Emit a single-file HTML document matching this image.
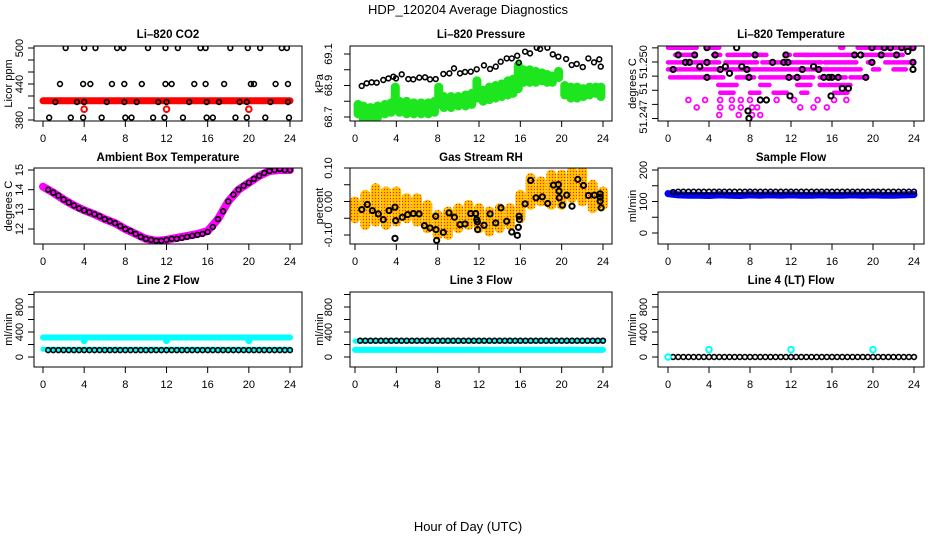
<!DOCTYPE html>
<html><head><meta charset="utf-8">
<style>
html,body{margin:0;padding:0;background:#fff;}
svg{display:block;font-family:"Liberation Sans",sans-serif;}
</style></head>
<body>
<svg id="chart" width="936" height="540" viewBox="0 0 936 540" xmlns="http://www.w3.org/2000/svg">
<text x="468" y="14" text-anchor="middle" font-size="13">HDP_120204  Average Diagnostics</text>
<text x="468" y="531" text-anchor="middle" font-size="13">Hour of Day (UTC)</text>
</svg>
<script>
// ---------- data ----------
const xTicks = [0,4,8,12,16,20,24];
// CO2
const co2RedVals = [412,412,412,412,412,412,412,412,412,412,412,412,412,412,412,412,412,412,412,412,412,412,412,412,412];
const co2RedPtX = [4,12,20];
const co2RedPtY = [398,398,398];
const co2BlackX = [2.2,4.0,5.1,7.2,7.8,10.2,11.9,13.1,15.3,15.8,18.2,19.9,21.1,23.2,23.7,
  1.65,3.9,4.6,6.7,7.9,9.6,11.9,12.5,14.7,15.8,17.6,20.2,20.5,22.6,23.8,
  1.2,3.3,4.0,6.2,7.9,9.1,11.2,12.0,14.2,15.9,17.1,19.1,19.8,22.1,23.8,
  0.6,2.7,3.9,5.7,8.0,8.6,10.7,11.8,13.6,15.9,16.5,18.7,19.8,21.6,23.9];
const co2BlackY = [500,500,500,500,500,500,500,500,500,500,500,500,500,500,500,
  440,440,440,440,440,440,440,440,440,440,440,440,440,440,440,
  410,410,410,410,410,410,410,410,410,410,410,410,410,410,410,
  384,384,384,384,384,384,384,384,384,384,384,384,384,384,384];
// Pressure
const presBlackX = [0.65,1.13,1.61,2.1,2.74,3.23,3.71,3.97,4.52,5.16,5.64,6.22,6.78,7.26,7.81,8.55,9.13,9.58,10.16,10.65,11.2,11.78,12.48,13.07,13.62,14.1,14.68,15.17,15.7,15.85,16.46,16.94,17.59,17.91,18.62,19.14,19.68,20.43,20.97,21.46,22.04,22.58,23.13,23.64,23.78];
const presBlackY = [68.897,68.914,68.920,68.918,68.935,68.945,68.956,68.945,68.971,68.941,68.939,68.950,68.952,68.939,68.941,68.973,68.977,69.009,68.977,68.986,68.988,69.003,69.028,69.005,69.020,69.051,69.072,69.072,69.089,69.045,69.115,69.104,69.140,69.132,69.140,69.098,69.083,69.068,69.030,69.037,69.017,69.072,69.047,69.066,69.020];
const presGreenX = [0.3,0.8,1.5,2.2,2.9,3.5,3.9,4.3,5.0,5.7,6.4,7.1,7.7,8.1,8.6,9.3,10.0,10.7,11.3,11.8,12.4,13.0,13.6,14.2,14.8,15.3,15.8,16.3,16.9,17.5,18.1,18.6,19.1,19.7,20.3,20.9,21.5,22.1,22.7,23.3,23.8];
const presGreenLo = [68.72,68.68,68.69,68.70,68.72,68.73,68.77,68.73,68.72,68.72,68.72,68.72,68.73,68.78,68.76,68.76,68.77,68.77,68.78,68.82,68.80,68.81,68.82,68.83,68.84,68.85,68.88,68.92,68.92,68.92,68.93,68.92,68.92,68.95,68.84,68.82,68.82,68.83,68.84,68.85,68.83];
const presGreenHi = [68.78,68.77,68.76,68.77,68.78,68.79,68.89,68.80,68.80,68.79,68.79,68.79,68.80,68.89,68.83,68.83,68.83,68.84,68.85,68.93,68.87,68.89,68.90,68.91,68.93,68.94,69.03,69.00,69.00,68.99,68.98,68.97,68.96,68.99,68.90,68.89,68.89,68.88,68.89,68.89,68.89];
// Li-820 temperature
const tempRunLevel = [51.25081,51.25081,51.25081,51.25081,
  51.2504,51.2504,51.2504,51.2504,51.2504,51.2504,51.2504,51.2504,
  51.24998,51.24998,51.24998,51.24998,51.24998,51.24998,51.24998,
  51.24958,51.24958,51.24958,51.24958,51.24958,
  51.24913,51.24913,51.24913,51.24913,51.24913,51.24913,
  51.2487,51.2487,51.2487,51.2487,
  51.24826,51.24826,51.24826,51.24826,51.24826];
const tempRunX0 = [0,3.8,16.8,18.5, 0.7,4.4,5.8,8.4,11.5,12.4,13.4,19.0, 0,3.9,5.6,9.2,15.3,19.5,21.2, 0,5.6,14.8,20,22, 0.2,6.7,9,12.7,14.8,17.8, 4.9,9,12.6,14.8, 5.1,8,10.3,13,16.2];
const tempRunX1 = [2.8,5,17.1,24, 2.8,5.1,8,9.6,11.9,13.7,18.3,22.9, 3.5,5,8.8,15,18.5,20,24, 5,14.5,18.8,20.6,23.2, 5.4,8.4,12.3,14.2,17.4,19.4, 6.7,9.9,13.9,17.8, 6.4,9,11.6,13.6,17.5];
const tempPtX = [1.99,3.62,5.09,6.23,7.1,8.0,10.6,12.3,14.6,16.2,17.4, 2.8,5.09,6.23,7.1,8.2,8.7,12.9,14.2,15.5, 5.0,6.9,8.2,9.0];
const tempPtY = [51.24785,51.24785,51.24785,51.24785,51.24785,51.24785,51.24785,51.24785,51.24785,51.24785,51.24785, 51.24743,51.24743,51.24743,51.24743,51.24743,51.24743,51.24743,51.24743,51.24743, 51.247,51.247,51.247,51.247];
const tempBlackX = [3.8,6.7,19.9,21.1,21.7,22.8,23.9, 1.0,2.6,4.6,8.5,11.5,18.2,18.8,20.8,22.3,23.4, 1.7,2.1,10.2,11.3,11.7,19.9,23.9, 0.5,3.1,3.8,5.1,5.6,7.2,7.7,13.1,14.2,14.7,6.0, 3.8,7.9,11.8,12.6,15.2,15.7,16.0,16.6,19.3,23.9, 17.0,17.6, 9.0,9.6,11.9,15.9, 7.8,7.9];
const tempBlackY = [51.25081,51.25081,51.25081,51.25081,51.25081,51.25081,51.25081, 51.2504,51.2504,51.2504,51.2504,51.2504,51.2504,51.2504,51.2504,51.2504,51.2506, 51.24998,51.24998,51.24998,51.24998,51.24998,51.24998,51.24998, 51.24958,51.24974,51.24998,51.24958,51.24974,51.24974,51.24958,51.24958,51.24974,51.24958,51.24936, 51.24913,51.24913,51.24913,51.24913,51.24913,51.24913,51.24913,51.24913,51.24913,51.24958, 51.24851,51.24851, 51.24785,51.24785,51.24808,51.24808, 51.24723,51.24681];
// Ambient box temperature
const ambMagenta = [14.15,13.85,13.5,13.2,12.95,12.75,12.5,12.3,12.0,11.75,11.5,11.4,11.45,11.55,11.65,11.75,11.9,12.5,13.4,14.0,14.35,14.7,14.95,15.0,15.0];
const ambBlack = [14.0,13.85,13.7,13.5,13.35,13.2,13.05,12.95,12.85,12.75,12.65,12.5,12.4,12.3,12.15,12.0,11.9,11.75,11.6,11.5,11.45,11.4,11.4,11.45,11.5,11.5,11.55,11.6,11.65,11.7,11.75,11.85,12.1,12.5,12.9,13.4,13.75,14.0,14.2,14.35,14.55,14.7,14.85,14.95,15.0,15.05,15.0,15.0];
// Gas stream RH
const rhCloudLo = [-0.05,-0.07,-0.06,-0.07,-0.06,-0.05,-0.06,-0.08,-0.10,-0.10,-0.08,-0.07,-0.08,-0.09,-0.08,-0.07,-0.05,-0.01,0.0,-0.01,-0.01,0.01,0.0,-0.02,-0.01];
const rhCloudHi = [0.0,0.02,0.04,0.03,0.03,0.01,0.01,-0.01,-0.04,-0.03,-0.02,-0.01,-0.02,-0.03,-0.02,-0.02,0.02,0.07,0.06,0.08,0.08,0.09,0.09,0.05,0.03];
const rhBlackX = [0.65,1.19,1.68,2.26,2.74,3.29,3.87,3.94,3.87,4.58,5.1,5.65,6.2,6.71,7.26,7.81,7.84,7.9,8.55,9.1,9.62,10.16,10.65,11.2,11.68,11.78,11.84,11.87,12.49,13.07,13.62,14.13,14.68,15.17,15.71,15.81,15.88,15.91,16.46,17.0,17.52,18.13,18.65,19.2,19.68,19.74,19.77,20.07,20.49,21.0,21.56,22.11,22.59,23.17,23.72,23.72,23.72,23.82];
const rhBlackY = [-0.024,-0.009,-0.027,-0.037,-0.054,-0.027,-0.017,-0.057,-0.110,-0.047,-0.039,-0.036,-0.037,-0.072,-0.079,-0.044,-0.084,-0.116,-0.092,-0.034,-0.047,-0.069,-0.067,-0.036,-0.036,-0.054,-0.061,-0.084,-0.071,-0.037,-0.064,-0.019,-0.059,-0.091,-0.101,-0.077,-0.044,-0.054,-0.007,0.063,0.011,0.014,-0.006,0.049,0.051,0.031,0.011,-0.011,0.019,-0.014,0.066,0.048,0.018,0.019,0.023,0.013,0.001,-0.019];
// Sample flow
const sfBlue = [125,121,120,120,119,121,120,119,121,120,121,120,121,120,120,121,120,120,121,120,121,120,120,121,122];
const sfBlack = [130,131,131,131,131,131,131,131,131,131,131,131,131,131,131,131,131,131,131,131,131,131,131,131,131,131,131,131,131,131,131,131,131,131,131,131,131,131,131,131,131,131,131,131,131,131,131,131];
// Line 2 flow
const l2Cyan = [312,312,312,312,312,312,312,312,312,312,312,312,312,312,312,312,312,312,312,312,312,312,312,312,312];
const l2DipX = [4,12,20];
const l2DipY = [262,262,262];
const l2CyanLow = [125,125,125,125,125,125,125,125,125,125,125,125,125,125,125,125,125,125,125,125,125,125,125,125,125];
const l2Black = [110,110,110,110,110,110,110,110,110,110,110,110,110,110,110,110,110,110,110,110,110,110,110,110,110,110,110,110,110,110,110,110,110,110,110,110,110,110,110,110,110,110,110,110,110,110,110,110];
// Line 3 flow
const l3Cyan = [115,115,115,115,115,115,115,115,115,115,115,115,115,115,115,115,115,115,115,115,115,115,115,115,115];
const l3CyanHigh = [255,255,255,255,255,255,255,255,255,255,255,255,255,255,255,255,255,255,255,255,255,255,255,255,255];
const l3Black = [261,261,261,261,261,261,261,261,261,261,261,261,261,261,261,261,261,261,261,261,261,261,261,261,261,261,261,261,261,261,261,261,261,261,261,261,261,261,261,261,261,261,261,261,261,261,261,261];
// Line 4 flow
const l4Black = [0,0,0,0,0,0,0,0,0,0,0,0,0,0,0,0,0,0,0,0,0,0,0,0,0,0,0,0,0,0,0,0,0,0,0,0,0,0,0,0,0,0,0,0,0,0,0,0];
const l4CyanX = [0,4,12,20];
const l4CyanY = [0,117,117,117];

// ---------- drawing ----------
const NS = "http://www.w3.org/2000/svg";
const svg = document.getElementById("chart");
function mk(tag, attrs, parent){
  const e = document.createElementNS(NS, tag);
  for (const k in attrs) e.setAttribute(k, attrs[k]);
  (parent||svg).appendChild(e);
  return e;
}
const defs = mk("defs", {});
const pat = mk("pattern", {id:"rhpat", width:"3", height:"3", patternUnits:"userSpaceOnUse"}, defs);
mk("rect", {x:0,y:0,width:3,height:3,fill:"#ffb400"}, pat);
mk("rect", {x:0,y:0,width:1,height:1,fill:"#ff2000"}, pat);
mk("rect", {x:1.5,y:1.5,width:1,height:1,fill:"#ffff00"}, pat);

const cols = [{bx0:34,bx1:302,x0:43,x24:290,tl:19,tt:8},{bx0:350,bx1:612,x0:355,x24:603,tl:328,tt:319},{bx0:658,bx1:924,x0:668,x24:914,tl:643,tt:632}];
const rows = [{by0:46,by1:121,title:38},{by0:168,by1:244,title:161},{by0:292,by1:367,title:284}];

function makePanel(name, c, r, title, ylab, v1, p1, v2, p2, yTicks, yLabels){
  const col = cols[c], row = rows[r];
  const g = mk("g", {});
  
  
  const sx = h => col.x0 + (col.x24 - col.x0) * h / 24;
  const sy = v => p1 + (v - v1) * (p2 - p1) / (v2 - v1);
  const clipId = "clip-" + name;
  const cp = mk("clipPath", {id:clipId}, defs);
  mk("rect", {x:col.bx0, y:row.by0, width:col.bx1-col.bx0, height:row.by1-row.by0}, cp);
  const marks = mk("g", {"clip-path":"url(#"+clipId+")"}, g);
  
  
  const box = mk("rect", {x:col.bx0, y:row.by0, width:col.bx1-col.bx0, height:row.by1-row.by0, fill:"none", stroke:"#000", "stroke-width":1}, g);
  
  
  const t = mk("text", {x:(col.bx0+col.bx1)/2, y:row.title, "text-anchor":"middle", "font-size":"11.5", "font-weight":"bold"}, g);
  t.textContent = title;
  
  
  const xa = mk("g", {}, g);
  
  
  xTicks.forEach(h => {
    mk("line", {x1:sx(h), x2:sx(h), y1:row.by1, y2:row.by1+6, stroke:"#000"}, xa);
    const tl = mk("text", {x:sx(h), y:row.by1+21, "text-anchor":"middle", "font-size":"11"}, xa);
    tl.textContent = h;
    
    
  });
  const ya = mk("g", {}, g);
  
  
  yTicks.forEach(v => {
    mk("line", {x1:col.bx0-6, x2:col.bx0, y1:sy(v), y2:sy(v), stroke:"#000"}, ya);
  });
  yLabels.forEach(l => {
    const y = sy(l[0]);
    const tl = mk("text", {x:col.tl, y:y, "text-anchor":"middle", "font-size":"11", transform:"rotate(-90 "+col.tl+" "+y+")", dy:"4"}, ya);
    tl.textContent = l[1];
    
    
  });
  const ym = (row.by0 + row.by1) / 2;
  const yt = mk("text", {x:col.tt, y:ym, "text-anchor":"middle", "font-size":"11", transform:"rotate(-90 "+col.tt+" "+ym+")", dy:"4"}, ya);
  yt.textContent = ylab;
  
  
  return {sx, sy, marks};
}
function circ(p, x, y, color, r, sw, fill){
  const e = mk("circle", {cx:x, cy:y, r:r||2.4, fill:fill||"none", stroke:color, "stroke-width":sw||1.6}, p.marks);
  
  
  return e;
}
function band(p, vals, color, w){
  const pts = vals.map((v,i) => p.sx(i) + "," + p.sy(v)).join(" ");
  const e = mk("polyline", {points:pts, fill:"none", stroke:color, "stroke-width":w, "stroke-linecap":"round", "stroke-linejoin":"round"}, p.marks);
  
  
  return e;
}
function vseg(p, x, lo, hi, color, w){
  const e = mk("line", {x1:p.sx(x), x2:p.sx(x), y1:p.sy(lo), y2:p.sy(hi), stroke:color, "stroke-width":w, "stroke-linecap":"round"}, p.marks);
  
  
}
function hseg(p, x0, x1, v, color, w){
  const e = mk("line", {x1:p.sx(x0), x2:p.sx(x1), y1:p.sy(v), y2:p.sy(v), stroke:color, "stroke-width":w, "stroke-linecap":"round", "stroke-dasharray":"4 1.5"}, p.marks);
  
  
}
function halfSeriesScaled(p, vals, color){
  vals.forEach((v,i) => circ(p, p.sx((i+1)*0.5), p.sy(v), color));
}

// Panel 1: CO2
let p = makePanel("li820-co2-panel", 0, 0, "Li\u2013820 CO2", "Licor ppm", 380, 120, 500, 48,
  [380,400,420,440,460,480,500], [[380,"380"],[440,"440"],[500,"500"]]);
band(p, co2RedVals, "#ff0000", 7);
co2RedPtX.forEach((h,i) => circ(p, p.sx(h), p.sy(co2RedPtY[i]), "#ff0000", 2.8, 2));
co2BlackX.forEach((h,i) => circ(p, p.sx(h), p.sy(co2BlackY[i]), "#000"));

// Panel 2: pressure
p = makePanel("li820-pressure-panel", 1, 0, "Li\u2013820 Pressure", "kPa", 68.7, 117, 69.1, 54,
  [68.7,68.8,68.9,69.0,69.1], [[68.7,"68.7"],[68.9,"68.9"],[69.1,"69.1"]]);
presGreenX.forEach((h,i) => vseg(p, h, presGreenLo[i], presGreenHi[i], "#1ee61e", 9));
presBlackX.forEach((h,i) => circ(p, p.sx(h), p.sy(presBlackY[i]), "#000"));

// Panel 3: Li-820 temperature
p = makePanel("li820-temperature-panel", 2, 0, "Li\u2013820 Temperature", "degrees C", 51.247, 115, 51.250, 62,
  [51.2468,51.2476,51.2484,51.2492,51.2500,51.2508], [[51.2469,"51.247"],[51.2485,"51"],[51.2500,"51.250"]]);
tempRunX0.forEach((h,i) => hseg(p, h, tempRunX1[i], tempRunLevel[i], "#ff00ff", 4.5));
tempPtX.forEach((h,i) => circ(p, p.sx(h), p.sy(tempPtY[i]), "#ff00ff", 2.4, 1.8));
tempBlackX.forEach((h,i) => circ(p, p.sx(h), p.sy(tempBlackY[i]), "#000", 2.6, 2));

// Panel 4: ambient box temperature
p = makePanel("ambient-box-temperature-panel", 0, 1, "Ambient Box Temperature", "degrees C", 12, 229, 15, 170,
  [12,13,14,15], [[12,"12"],[13,"13"],[14,"14"],[15,"15"]]);
band(p, ambMagenta, "#ff00ff", 8);
halfSeriesScaled(p, ambBlack, "#000");

// Panel 5: gas stream RH
p = makePanel("gas-stream-rh-panel", 1, 1, "Gas Stream RH", "percent", -0.10, 235, 0.10, 168,
  [-0.10,-0.05,0,0.05,0.10], [[-0.10,"-0.10"],[0,"0.00"],[0.10,"0.10"]]);
rhCloudLo.forEach((v,i) => vseg(p, i, v, rhCloudHi[i], "url(#rhpat)", 10));
rhBlackX.forEach((h,i) => circ(p, p.sx(h), p.sy(rhBlackY[i]), "#000", 2.6, 2));

// Panel 6: sample flow
p = makePanel("sample-flow-panel", 2, 1, "Sample Flow", "ml/min", 0, 233, 200, 170,
  [0,50,100,150,200], [[0,"0"],[100,"100"],[200,"200"]]);
band(p, sfBlue, "#0000ff", 7);
halfSeriesScaled(p, sfBlack, "#000");

// Panel 7: line 2 flow
p = makePanel("line2-flow-panel", 0, 2, "Line 2 Flow", "ml/min", 0, 357, 800, 307,
  [0,200,400,600,800,1000], [[0,"0"],[400,"400"],[800,"800"]]);
band(p, l2Cyan, "#00ffff", 6);
l2DipX.forEach((h,i) => circ(p, p.sx(h), p.sy(l2DipY[i]), "#00ffff", 2.5, 2, "#00ffff"));
band(p, l2CyanLow, "#00ffff", 5);
halfSeriesScaled(p, l2Black, "#000");

// Panel 8: line 3 flow
p = makePanel("line3-flow-panel", 1, 2, "Line 3 Flow", "ml/min", 0, 357, 800, 307,
  [0,200,400,600,800,1000], [[0,"0"],[400,"400"],[800,"800"]]);
band(p, l3Cyan, "#00ffff", 6);
band(p, l3CyanHigh, "#00ffff", 5);
halfSeriesScaled(p, l3Black, "#000");

// Panel 9: line 4 flow
p = makePanel("line4-flow-panel", 2, 2, "Line 4 (LT) Flow", "ml/min", 0, 357, 800, 307,
  [0,200,400,600,800,1000], [[0,"0"],[400,"400"],[800,"800"]]);
halfSeriesScaled(p, l4Black, "#000");
l4CyanX.forEach((h,i) => circ(p, p.sx(h), p.sy(l4CyanY[i]), "#00ffff", 2.8, 2));
</script>
</body></html>
